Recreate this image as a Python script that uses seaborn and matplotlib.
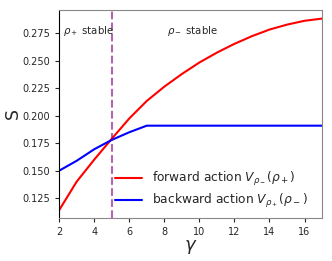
import pandas as pd
import matplotlib
matplotlib.use("Agg")
import matplotlib.pyplot as plt
import seaborn as sns

# data
gamma = [2, 3, 4, 5, 6, 7, 8, 9, 10, 11, 12, 13, 14, 15, 16, 17]
forward = [0.114, 0.140, 0.160, 0.179, 0.1975, 0.2135, 0.2265, 0.238, 0.2485,
           0.2575, 0.2655, 0.2725, 0.2785, 0.283, 0.2865, 0.2885]
backward = [0.150, 0.159, 0.1695, 0.178, 0.185, 0.191, 0.191, 0.191, 0.191,
            0.191, 0.191, 0.191, 0.191, 0.191, 0.191, 0.191]
labels = [r"forward action $V_{\rho_-}(\rho_+)$", r"backward action $V_{\rho_+}(\rho_-)$"]
gamma_crit = 5

df = pd.DataFrame({
    "gamma": gamma * 2,
    "S": forward + backward,
    "action": [labels[0]] * len(gamma) + [labels[1]] * len(gamma),
})

sns.set_style("ticks")
fig = plt.figure(figsize=(3.32, 2.61), dpi=100)
ax = fig.add_axes([0.178, 0.165, 0.792, 0.797])

sns.lineplot(data=df, x="gamma", y="S", hue="action",
             palette=["red", "blue"], linewidth=1.5, ax=ax)
ax.axvline(gamma_crit, color="purple", alpha=0.6, linestyle="--", linewidth=1.5)

ax.text(2.2, 0.2768, r"$\rho_+$ stable", fontsize=7.3, va="center")
ax.text(8.15, 0.2768, r"$\rho_-$ stable", fontsize=7.3, va="center")

ax.set_xlim(2, 17)
ax.set_ylim(0.107, 0.2964)
ax.set_xticks([2, 4, 6, 8, 10, 12, 14, 16])
ax.set_yticks([0.125, 0.150, 0.175, 0.200, 0.225, 0.250, 0.275])
ax.tick_params(labelsize=7, length=3, width=0.8)
ax.set_xlabel(r"$\gamma$", fontsize=13, labelpad=1)
ax.set_ylabel("S", fontsize=12.5, labelpad=0)

for side in ["top", "right", "bottom"]:
    ax.spines[side].set_color("#888888")
ax.spines["left"].set_color("black")

ax.legend(loc="lower right", bbox_to_anchor=(0.965, 0.015), borderaxespad=0,
          frameon=False, fontsize=8.8, handlelength=2.2, labelspacing=0.3)

fig.savefig("out.png", dpi=100)
